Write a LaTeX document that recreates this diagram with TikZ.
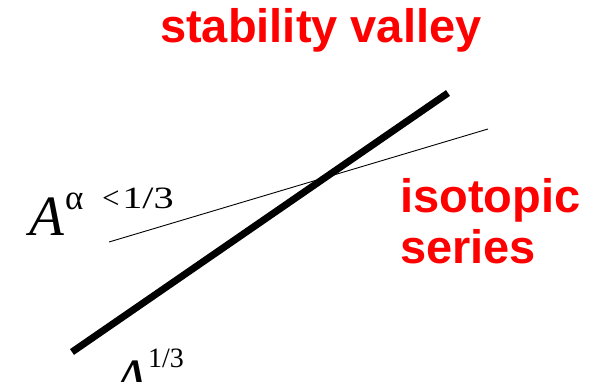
\documentclass[tikz,border=0pt]{standalone}
\usepackage{fontspec}
\setmainfont{Liberation Serif}
\newfontfamily\redsans{Liberation Sans}
\definecolor{labelred}{RGB}{255,0,0}
\tikzset{
  redlabel/.style={inner sep=0pt, anchor=base west, text=labelred, font=\redsans\bfseries\fontsize{47}{50}\selectfont},
  bigA/.style={inner sep=0pt, anchor=base west, font=\itshape\fontsize{57}{60}\selectfont},
  expo/.style={inner sep=0pt, anchor=base west, font=\fontsize{28}{30}\selectfont},
  expobig/.style={inner sep=0pt, anchor=base west, font=\fontsize{31}{33}\selectfont},
  valley/.style={line width=7pt, line cap=butt},
  series/.style={line width=0.9pt}
}
\begin{document}
\begin{tikzpicture}[x=1pt,y=-1pt]
\useasboundingbox (0,0) rectangle (600,382);
\clip (0,0) rectangle (600,382);
\coordinate (v1) at (72,352);
\coordinate (v2) at (448,93);
\coordinate (s1) at (109,242);
\coordinate (s2) at (488,129);
\draw[valley] (v1) -- (v2);
\draw[series] (s1) -- (s2);
\node[redlabel] (title) at (160,43) {stability valley};
\node[redlabel] (iso1) at (400,213) {isotopic};
\node[redlabel] (iso2) at (400,264) {series};
\node[bigA] (A1) at (29,236) {A};
\node[inner sep=0pt, anchor=base west, font=\fontsize{35}{37}\selectfont] (alpha) at (65,210) {α};
\node[expobig] (lt) at (102,209) {<};
\node[expobig, xscale=1.3] (third1) at (122,209) {1/3};
\node[bigA] (A2) at (113,398) {A};
\node[expo] (third2) at (148,367) {1/3};
\end{tikzpicture}
\end{document}
